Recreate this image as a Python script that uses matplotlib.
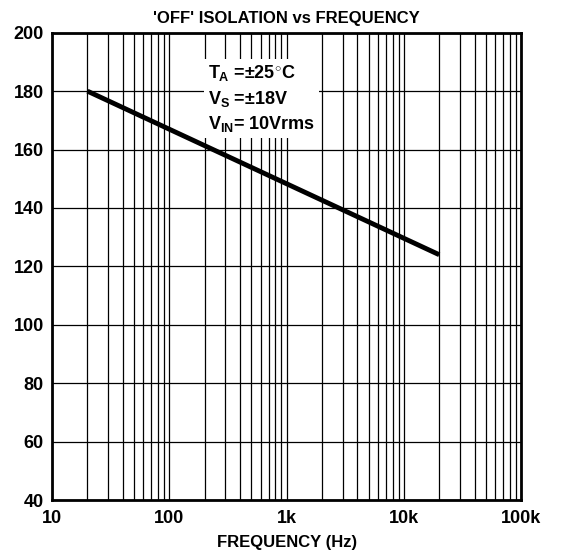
import matplotlib.pyplot as plt
import matplotlib.ticker as mticker
import numpy as np

# Data
freq_hz = [20, 20000]
isolation_db = [180, 124]
x_ticks = [10, 100, 1000, 10000, 100000]
x_tick_labels = ['10', '100', '1k', '10k', '100k']
y_ticks = [40, 60, 80, 100, 120, 140, 160, 180, 200]

plt.rcParams['font.family'] = ['Liberation Sans', 'DejaVu Sans']
plt.rcParams['font.weight'] = 'bold'
plt.rcParams['mathtext.fontset'] = 'custom'
plt.rcParams['mathtext.rm'] = 'Liberation Sans:bold'
plt.rcParams['mathtext.bf'] = 'Liberation Sans:bold'
plt.rcParams['mathtext.it'] = 'Liberation Sans:bold'

fig = plt.figure(figsize=(5.61, 5.55), dpi=100)
ax = fig.add_axes([0.093, 0.099, 0.836, 0.842])

ax.set_xscale('log')
ax.set_xlim(10, 100000)
ax.set_ylim(40, 200)

# Grid at every decade and every minor step
ax.xaxis.set_major_locator(mticker.FixedLocator(x_ticks))
ax.xaxis.set_major_formatter(mticker.FixedFormatter(x_tick_labels))
ax.xaxis.set_minor_locator(mticker.LogLocator(base=10, subs=np.arange(2, 10)))
ax.xaxis.set_minor_formatter(mticker.NullFormatter())
ax.set_yticks(y_ticks)
ax.grid(which='both', color='black', linewidth=0.9)
ax.tick_params(which='both', length=0, labelsize=13)
ax.tick_params(axis='x', pad=7)
ax.tick_params(axis='y', pad=6)
for sp in ax.spines.values():
    sp.set_linewidth(2)

ax.plot(freq_hz, isolation_db, color='black', linewidth=3.5, solid_capstyle='butt', zorder=3)

ax.text(215, 189.5, '$T_A$ =±25$^{\\circ}$C\n$V_S$ =±18V\n$V_{IN}$= 10Vrms',
        fontsize=13, fontweight='bold', va='top', ha='left', linespacing=1.35,
        bbox=dict(facecolor='white', edgecolor='none', pad=3), zorder=4)

ax.set_title("'OFF' ISOLATION vs FREQUENCY", fontsize=12, fontweight='bold', pad=7)
ax.set_xlabel('FREQUENCY (Hz)', fontsize=12, fontweight='bold', labelpad=6)

fig.savefig('out.png', dpi=100)
